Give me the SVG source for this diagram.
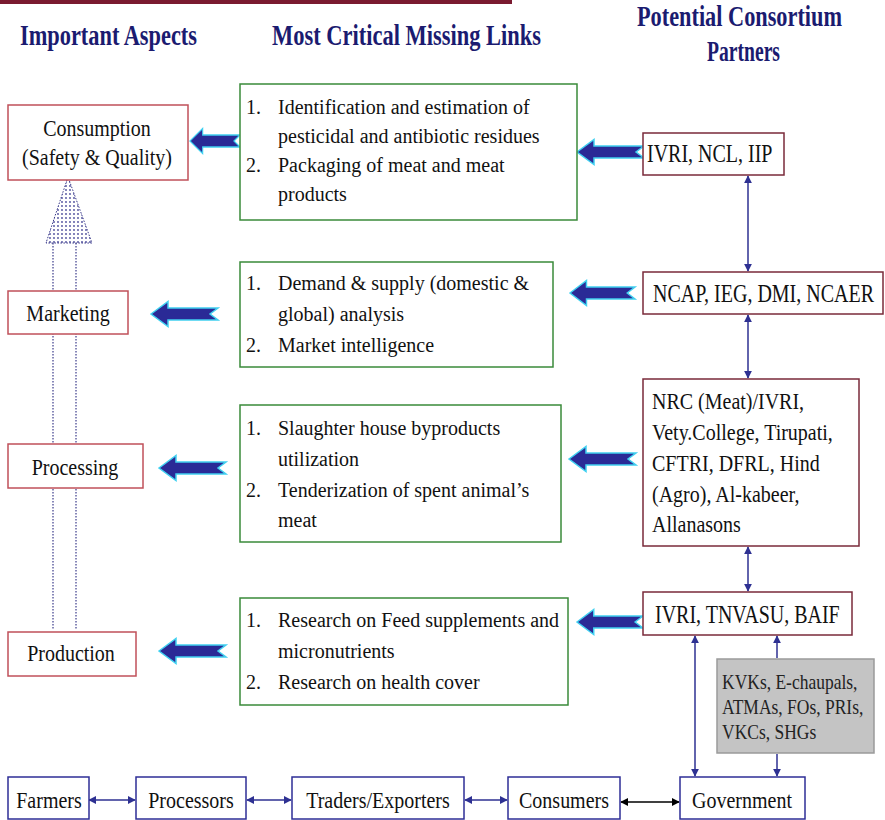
<svg xmlns="http://www.w3.org/2000/svg" xmlns:xlink="http://www.w3.org/1999/xlink" width="885" height="820" viewBox="0 0 885 820">
<style>
.hdr{font-family:"Liberation Serif","Times New Roman",serif;font-weight:bold;font-size:22px;fill:#1b1b70}
.t{font-family:"Liberation Serif","Times New Roman",serif;font-size:20px;fill:#111}
.ts{font-family:"Liberation Serif","Times New Roman",serif;font-size:17.5px;fill:#222}
.red{fill:#fff;stroke:#c0505a;stroke-width:1.5}
.grn{fill:#fff;stroke:#3a8a3a;stroke-width:1.5}
.mar{fill:#fff;stroke:#7a2a3a;stroke-width:1.5}
.blu{fill:#fff;stroke:#2e2e96;stroke-width:1.5}
.gry{fill:#c4c4c4;stroke:#9a9a9a;stroke-width:1.5}
.blk{fill:#2a2a96;stroke:#40d0f0;stroke-width:1.5;stroke-linejoin:miter}
.con{stroke:#2e3192;stroke-width:1.5;fill:none;marker-start:url(#ah);marker-end:url(#ah)}
.conb{stroke:#000;stroke-width:1.5;fill:none;marker-start:url(#ahb);marker-end:url(#ahb)}
.dot{stroke:#3a3a8a;stroke-width:1.2;stroke-dasharray:1.5 1.5;fill:none}
</style>
<defs>
<marker id="ah" viewBox="0 0 10 10" refX="9" refY="5" markerWidth="8" markerHeight="8" markerUnits="userSpaceOnUse" orient="auto-start-reverse">
<path d="M0,0 L10,5 L0,10 Z" fill="#2e3192"/>
</marker>
<marker id="ahb" viewBox="0 0 10 10" refX="9" refY="5" markerWidth="8" markerHeight="8" markerUnits="userSpaceOnUse" orient="auto-start-reverse">
<path d="M0,0 L10,5 L0,10 Z" fill="#000"/>
</marker>
<pattern id="dots" width="4" height="4" patternUnits="userSpaceOnUse">
<circle cx="2" cy="2" r="0.9" fill="#4a4a9a"/>
</pattern>
<path id="barrow" d="M0,0 L17,-12.5 L17,-6 L67,-6 L59,0 L67,6 L17,6 L17,12.5 Z"/>
</defs>

<rect width="885" height="820" fill="#fff"/>
<line x1="0" y1="2" x2="512" y2="2" stroke="#7a1a30" stroke-width="4"/>

<g id="headers">
<text class="hdr" transform="translate(20,45) scale(1,1.3)" textLength="177" lengthAdjust="spacingAndGlyphs">Important Aspects</text>
<text class="hdr" transform="translate(272,45) scale(1,1.3)" textLength="269" lengthAdjust="spacingAndGlyphs">Most Critical Missing Links</text>
<text class="hdr" transform="translate(637,26) scale(1,1.3)" textLength="205" lengthAdjust="spacingAndGlyphs">Potential Consortium</text>
<text class="hdr" transform="translate(707,61) scale(1,1.3)" textLength="73" lengthAdjust="spacingAndGlyphs">Partners</text>
</g>

<g id="progress">
<polygon points="68,177 46,243 92,243" fill="url(#dots)" stroke="#3a3a8a" stroke-width="1" stroke-dasharray="1.5 1.5"/>
<line class="dot" x1="53" y1="243" x2="53" y2="630"/>
<line class="dot" x1="76" y1="243" x2="76" y2="630"/>
</g>

<g id="connectors">
<use xlink:href="#barrow" class="blk" transform="translate(190,141) scale(0.746,1)"/>
<use xlink:href="#barrow" class="blk" transform="translate(151,314)"/>
<use xlink:href="#barrow" class="blk" transform="translate(159,468)"/>
<use xlink:href="#barrow" class="blk" transform="translate(159,651)"/>
<use xlink:href="#barrow" class="blk" transform="translate(577,152)"/>
<use xlink:href="#barrow" class="blk" transform="translate(570,293) scale(0.97,1)"/>
<use xlink:href="#barrow" class="blk" transform="translate(569,459)"/>
<use xlink:href="#barrow" class="blk" transform="translate(577,622) scale(0.985,1)"/>
<line class="con" x1="748" y1="176" x2="748" y2="271"/>
<line class="con" x1="748" y1="315" x2="748" y2="378"/>
<line class="con" x1="748" y1="547" x2="748" y2="591"/>
<line class="con" x1="695" y1="636" x2="695" y2="776"/>
<line class="con" x1="777" y1="636" x2="777" y2="658" style="marker-end:none"/>
<line class="con" x1="777" y1="754" x2="777" y2="776" style="marker-start:none"/>
<line class="con" x1="89" y1="800" x2="135" y2="800"/>
<line class="con" x1="247" y1="800" x2="291" y2="800"/>
<line class="con" x1="465" y1="800" x2="507" y2="800"/>
<line class="conb" x1="621" y1="802" x2="679" y2="802"/>
</g>

<g id="consumption">
<rect class="red" x="8" y="105" width="180" height="75"/>
<text class="t" text-anchor="middle" transform="translate(97,136) scale(1,1.2)" font-size="19.5">Consumption</text>
<text class="t" text-anchor="middle" transform="translate(97,165) scale(1,1.2)" font-size="19.5">(Safety &amp; Quality)</text>
</g>
<g id="marketing">
<rect class="red" x="8" y="291" width="120" height="43"/>
<text class="t" text-anchor="middle" transform="translate(68,321) scale(1,1.2)" font-size="19.5">Marketing</text>
</g>
<g id="processing">
<rect class="red" x="8" y="444" width="135" height="44"/>
<text class="t" text-anchor="middle" transform="translate(75,475) scale(1,1.2)" font-size="19.5">Processing</text>
</g>
<g id="production">
<rect class="red" x="8" y="632" width="128" height="44"/>
<text class="t" text-anchor="middle" transform="translate(71,661) scale(1,1.2)" font-size="19.5">Production</text>
</g>

<g id="links-consumption">
<rect class="grn" x="240" y="84" width="337" height="136"/>
<text class="t" x="246" y="114">1.</text>
<text class="t" x="278" y="114">Identification and estimation of</text>
<text class="t" x="278" y="143">pesticidal and antibiotic residues</text>
<text class="t" x="246" y="172">2.</text>
<text class="t" x="278" y="172">Packaging of meat and meat</text>
<text class="t" x="278" y="201">products</text>
</g>
<g id="links-marketing">
<rect class="grn" x="240" y="262" width="313" height="105"/>
<text class="t" x="246" y="290">1.</text>
<text class="t" x="278" y="290">Demand &amp; supply (domestic &amp;</text>
<text class="t" x="278" y="321">global) analysis</text>
<text class="t" x="246" y="352">2.</text>
<text class="t" x="278" y="352">Market intelligence</text>
</g>
<g id="links-processing">
<rect class="grn" x="240" y="405" width="321" height="137"/>
<text class="t" x="246" y="435">1.</text>
<text class="t" x="278" y="435">Slaughter house byproducts</text>
<text class="t" x="278" y="466">utilization</text>
<text class="t" x="246" y="497">2.</text>
<text class="t" x="278" y="497">Tenderization of spent animal’s</text>
<text class="t" x="278" y="527">meat</text>
</g>
<g id="links-production">
<rect class="grn" x="240" y="598" width="328" height="107"/>
<text class="t" x="246" y="627">1.</text>
<text class="t" x="278" y="627">Research on Feed supplements and</text>
<text class="t" x="278" y="658">micronutrients</text>
<text class="t" x="246" y="689">2.</text>
<text class="t" x="278" y="689">Research on health cover</text>
</g>

<g id="partners-1">
<rect class="mar" x="643" y="133" width="141" height="42"/>
<text class="t" transform="translate(647,162) scale(1,1.25)">IVRI, NCL, IIP</text>
</g>
<g id="partners-2">
<rect class="mar" x="643" y="272" width="240" height="42"/>
<text class="t" transform="translate(653,302) scale(1,1.25)">NCAP, IEG, DMI, NCAER</text>
</g>
<g id="partners-3">
<rect class="mar" x="643" y="379" width="216" height="167"/>
<text class="t" transform="translate(652,409) scale(1,1.2)">NRC (Meat)/IVRI,</text>
<text class="t" transform="translate(652,440) scale(1,1.2)">Vety.College, Tirupati,</text>
<text class="t" transform="translate(652,471) scale(1,1.2)">CFTRI, DFRL, Hind</text>
<text class="t" transform="translate(652,502) scale(1,1.2)">(Agro), Al-kabeer,</text>
<text class="t" transform="translate(652,532) scale(1,1.2)">Allanasons</text>
</g>
<g id="partners-4">
<rect class="mar" x="643" y="592" width="209" height="43"/>
<text class="t" transform="translate(655,623) scale(1,1.25)">IVRI, TNVASU, BAIF</text>
</g>
<g id="grassroots">
<rect class="gry" x="717" y="659" width="157" height="94"/>
<text class="ts" transform="translate(722,689) scale(1,1.2)">KVKs, E-chaupals,</text>
<text class="ts" transform="translate(722,714) scale(1,1.2)">ATMAs, FOs, PRIs,</text>
<text class="ts" transform="translate(722,739) scale(1,1.2)">VKCs, SHGs</text>
</g>

<g id="farmers">
<rect class="blu" x="8" y="777" width="81" height="42"/>
<text class="t" text-anchor="middle" transform="translate(49,808) scale(1,1.2)">Farmers</text>
</g>
<g id="processors">
<rect class="blu" x="136" y="777" width="110" height="42"/>
<text class="t" text-anchor="middle" transform="translate(191,808) scale(1,1.2)">Processors</text>
</g>
<g id="traders">
<rect class="blu" x="292" y="777" width="172" height="42"/>
<text class="t" text-anchor="middle" transform="translate(378,808) scale(1,1.2)">Traders/Exporters</text>
</g>
<g id="consumers">
<rect class="blu" x="508" y="777" width="112" height="42"/>
<text class="t" text-anchor="middle" transform="translate(564,808) scale(1,1.2)">Consumers</text>
</g>
<g id="government">
<rect class="blu" x="680" y="777" width="125" height="42"/>
<text class="t" text-anchor="middle" transform="translate(742,808) scale(1,1.2)">Government</text>
</g>
</svg>
